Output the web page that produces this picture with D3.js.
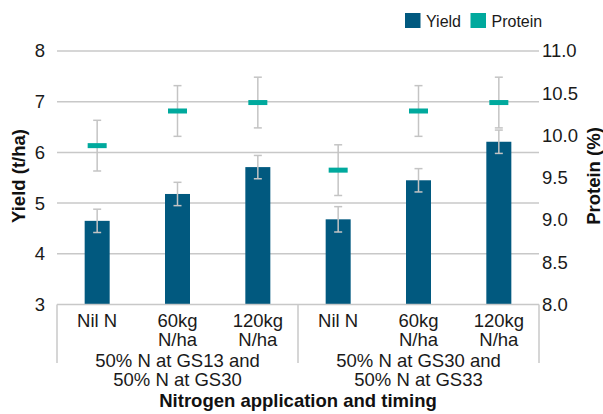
<!DOCTYPE html>
<html>
<head>
<meta charset="utf-8">
<script src="https://cdn.jsdelivr.net/npm/d3@7"></script>
<style>
  html, body { margin: 0; padding: 0; background: #fff; }
  svg { display: block; font-family: "Liberation Sans", Arial, Helvetica, sans-serif; }
</style>
</head>
<body>
<svg id="chart" width="603" height="414"></svg>
<script>
// Treatments within each timing group
const treatments = [["Nil N"], ["60kg", "N/ha"], ["120kg", "N/ha"]];
const groups = [
  ["50% N at GS13 and", "50% N at GS30"],
  ["50% N at GS30 and", "50% N at GS33"]
];

// Grain yield (t/ha) and standard error, in order group 1 then group 2
const yieldValues = [4.65, 5.18, 5.71, 4.68, 5.45, 6.21];
const yieldErr    = [0.23, 0.23, 0.23, 0.25, 0.23, 0.23];

// Grain protein (%) and standard error
const proteinValues = [9.88, 10.29, 10.39, 9.59, 10.29, 10.39];
const proteinErr    = [0.30, 0.30, 0.30, 0.30, 0.30, 0.30];

const yieldTicks = [3, 4, 5, 6, 7, 8];
const proteinTicks = [8.0, 8.5, 9.0, 9.5, 10.0, 10.5, 11.0];

const barColor = "#01597f";
const proteinColor = "#00a99d";
const gridColor = "#c8c8c8";
const errColor = "#c4c4c4";
const fs = 18.5;

const svg = d3.select("#chart");
const plot = { left: 57, right: 539, top: 51, bottom: 304.5 };

// one slot per bar: group index x treatment index
const slots = [];
groups.forEach((g, gi) => treatments.forEach((t, ti) => slots.push({ gi, ti, key: gi + "-" + ti })));

const x = d3.scaleBand().domain(slots.map(d => d.key)).range([plot.left, plot.right]).padding(0);
const groupX = d3.scaleBand().domain(groups.map((g, i) => i)).range([plot.left, plot.right]).padding(0);
const yL = d3.scaleLinear().domain([3, 8]).range([plot.bottom, plot.top]);
const yR = d3.scaleLinear().domain([8, 11]).range([plot.bottom, plot.top]);

const barW = 25;
const capW = 8;
const markW = 19, markH = 5;

// gridlines
svg.append("g").selectAll("line").data(yieldTicks.filter(v => v > 3)).join("line")
  .attr("x1", plot.left).attr("x2", plot.right)
  .attr("y1", d => yL(d)).attr("y2", d => yL(d))
  .attr("stroke", gridColor).attr("stroke-width", 1.5);

// left axis
const leftAxis = svg.append("g").attr("transform", `translate(${plot.left},0)`)
  .call(d3.axisLeft(yL).tickValues(yieldTicks).tickFormat(d3.format("d")).tickSize(0).tickPadding(12));
leftAxis.select(".domain").remove();
leftAxis.selectAll("text").attr("font-size", fs).attr("fill", "#1a1a1a").attr("font-family", null);

// right axis
const rightAxis = svg.append("g").attr("transform", `translate(${plot.right},0)`)
  .call(d3.axisRight(yR).tickValues(proteinTicks).tickFormat(d3.format(".1f")).tickSize(0).tickPadding(3));
rightAxis.select(".domain").remove();
rightAxis.selectAll("text").attr("font-size", fs).attr("fill", "#1a1a1a").attr("font-family", null);

// bars
svg.append("g").selectAll("rect").data(slots).join("rect")
  .attr("x", (d) => x(d.key) + x.bandwidth() / 2 - barW / 2)
  .attr("width", barW)
  .attr("y", (d, i) => yL(yieldValues[i]))
  .attr("height", (d, i) => yL(3) - yL(yieldValues[i]))
  .attr("fill", barColor);

// category axis baseline and group separators
svg.append("line").attr("x1", plot.left).attr("x2", plot.right)
  .attr("y1", plot.bottom).attr("y2", plot.bottom)
  .attr("stroke", gridColor).attr("stroke-width", 1.5);
const sepXs = [plot.left, ...groups.map((g, i) => groupX(i) + groupX.bandwidth())];
svg.append("g").selectAll("line").data(sepXs).join("line")
  .attr("x1", d => d).attr("x2", d => d)
  .attr("y1", plot.bottom).attr("y2", 363)
  .attr("stroke", gridColor).attr("stroke-width", 1.5);

// error bars helper
function errorBars(values, errs, scale) {
  const g = svg.append("g").attr("stroke", errColor).attr("stroke-width", 1.5).attr("fill", "none");
  slots.forEach((d, i) => {
    const cx = x(d.key) + x.bandwidth() / 2;
    const hi = scale(values[i] + errs[i]), lo = scale(values[i] - errs[i]);
    g.append("line").attr("x1", cx).attr("x2", cx).attr("y1", hi).attr("y2", lo);
    g.append("line").attr("x1", cx - capW / 2).attr("x2", cx + capW / 2).attr("y1", hi).attr("y2", hi);
    g.append("line").attr("x1", cx - capW / 2).attr("x2", cx + capW / 2).attr("y1", lo).attr("y2", lo);
  });
}
errorBars(yieldValues, yieldErr, yL);
errorBars(proteinValues, proteinErr, yR);

// protein markers
svg.append("g").selectAll("rect").data(slots).join("rect")
  .attr("x", d => x(d.key) + x.bandwidth() / 2 - markW / 2)
  .attr("y", (d, i) => yR(proteinValues[i]) - markH / 2)
  .attr("width", markW).attr("height", markH)
  .attr("fill", proteinColor);

// treatment labels
const catLabels = svg.append("g").attr("font-size", fs).attr("fill", "#1a1a1a").attr("text-anchor", "middle");
slots.forEach(d => {
  const t = catLabels.append("text").attr("x", x(d.key) + x.bandwidth() / 2).attr("y", 327);
  treatments[d.ti].forEach((line, li) => {
    t.append("tspan").attr("x", x(d.key) + x.bandwidth() / 2).attr("dy", li === 0 ? 0 : 18.7).text(line);
  });
});

// group labels
groups.forEach((lines, gi) => {
  const cx = groupX(gi) + groupX.bandwidth() / 2;
  const t = svg.append("text").attr("font-size", fs).attr("fill", "#1a1a1a")
    .attr("text-anchor", "middle").attr("y", 367);
  lines.forEach((line, li) => t.append("tspan").attr("x", cx).attr("dy", li === 0 ? 0 : 18.7).text(line));
});

// axis titles
svg.append("text").attr("x", (plot.left + plot.right) / 2).attr("y", 406.5)
  .attr("text-anchor", "middle").attr("font-size", fs).attr("font-weight", "bold").attr("fill", "#111")
  .text("Nitrogen application and timing");
svg.append("text").attr("transform", "translate(24.5,176) rotate(-90)")
  .attr("text-anchor", "middle").attr("font-size", fs).attr("font-weight", "bold").attr("fill", "#111")
  .text("Yield (t/ha)");
svg.append("text").attr("transform", "translate(599.5,176) rotate(-90)")
  .attr("text-anchor", "middle").attr("font-size", fs).attr("font-weight", "bold").attr("fill", "#111")
  .text("Protein (%)");

// legend
const legendItems = [
  { label: "Yield", color: barColor, x: 405 },
  { label: "Protein", color: proteinColor, x: 470.5 }
];
const legend = svg.append("g");
legendItems.forEach(it => {
  legend.append("rect").attr("x", it.x).attr("y", 13).attr("width", 15.5).attr("height", 15).attr("fill", it.color);
  legend.append("text").attr("x", it.x + 21).attr("y", 26.5).attr("font-size", 16).attr("fill", "#1a1a1a").text(it.label);
});
</script>
</body>
</html>
